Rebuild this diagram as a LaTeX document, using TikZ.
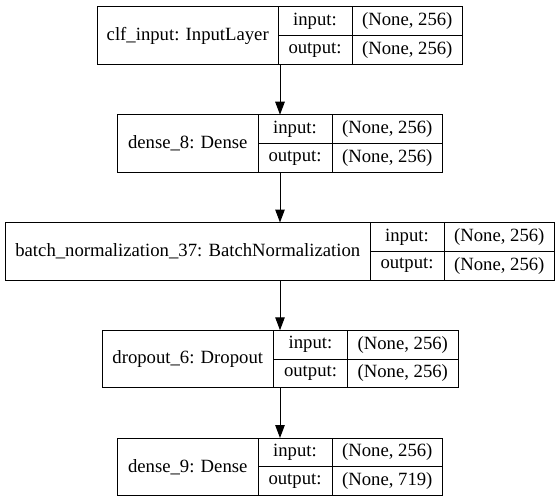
\documentclass[tikz,border=0pt]{standalone}
\usepackage{fontspec}
\setmainfont{Liberation Serif}
\usetikzlibrary{arrows.meta,positioning,fit}

\begin{document}
\begin{tikzpicture}[x=1pt,y=-1pt,>={Triangle[length=13pt,width=9.5pt]},
                    node distance=0pt,line width=1pt,
                    every node/.style={font=\fontsize{18.7}{22}\selectfont,outer sep=0pt},
                    lname/.style={draw,rectangle,minimum height=57.5pt,inner sep=0pt,anchor=north west},
                    port/.style={draw,rectangle,minimum width=74pt,minimum height=28.75pt,inner sep=0pt},
                    shp/.style={draw,rectangle,minimum width=110.5pt,minimum height=28.75pt,inner sep=0pt},
                    layer/.style={inner sep=0pt,draw=none}]
    \useasboundingbox (0,0) rectangle (560,503);
    % layers
    \node [lname,minimum width=180.5pt] (clf)    at (97.5,7)     {clf\_input: InputLayer};
    \node [port,anchor=north west]      (clf-in)  at (clf.north east) {input:};
    \node [port]                        (clf-out) [below=of clf-in]   {output:};
    \node [shp]                         (clf-ins) [right=of clf-in]   {(None, 256)};
    \node [shp]                         (clf-outs)[right=of clf-out]  {(None, 256)};
    \node [layer,fit=(clf)(clf-outs)]   (clf-box) {};

    \node [lname,minimum width=140.5pt] (dense8)    at (117.5,114.75) {dense\_8: Dense};
    \node [port,anchor=north west]      (dense8-in)  at (dense8.north east) {input:};
    \node [port]                        (dense8-out) [below=of dense8-in]   {output:};
    \node [shp]                         (dense8-ins) [right=of dense8-in]   {(None, 256)};
    \node [shp]                         (dense8-outs)[right=of dense8-out]  {(None, 256)};
    \node [layer,fit=(dense8)(dense8-outs)] (dense8-box) {};

    \node [lname,minimum width=364.5pt] (bn37)    at (5.5,222.5) {batch\_normalization\_37: BatchNormalization};
    \node [port,anchor=north west]      (bn37-in)  at (bn37.north east) {input:};
    \node [port]                        (bn37-out) [below=of bn37-in]   {output:};
    \node [shp]                         (bn37-ins) [right=of bn37-in]   {(None, 256)};
    \node [shp]                         (bn37-outs)[right=of bn37-out]  {(None, 256)};
    \node [layer,fit=(bn37)(bn37-outs)] (bn37-box) {};

    \node [lname,minimum width=171.5pt] (drop6)    at (102,330.25) {dropout\_6: Dropout};
    \node [port,anchor=north west]      (drop6-in)  at (drop6.north east) {input:};
    \node [port]                        (drop6-out) [below=of drop6-in]   {output:};
    \node [shp]                         (drop6-ins) [right=of drop6-in]   {(None, 256)};
    \node [shp]                         (drop6-outs)[right=of drop6-out]  {(None, 256)};
    \node [layer,fit=(drop6)(drop6-outs)] (drop6-box) {};

    \node [lname,minimum width=140.5pt] (dense9)    at (117.5,438) {dense\_9: Dense};
    \node [port,anchor=north west]      (dense9-in)  at (dense9.north east) {input:};
    \node [port]                        (dense9-out) [below=of dense9-in]   {output:};
    \node [shp]                         (dense9-ins) [right=of dense9-in]   {(None, 256)};
    \node [shp]                         (dense9-outs)[right=of dense9-out]  {(None, 719)};
    \node [layer,fit=(dense9)(dense9-outs)] (dense9-box) {};

    % flow
    \draw [->] (clf-box)    -- (dense8-box);
    \draw [->] (dense8-box) -- (bn37-box);
    \draw [->] (bn37-box)   -- (drop6-box);
    \draw [->] (drop6-box)  -- (dense9-box);
\end{tikzpicture}
\end{document}
